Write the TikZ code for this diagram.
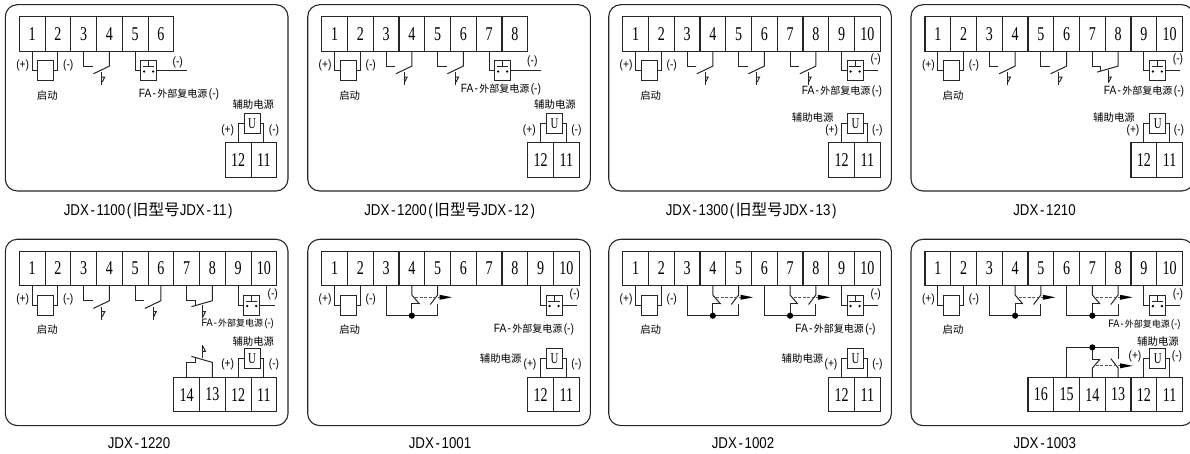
\documentclass[tikz,border=0pt]{standalone}
\usepackage{fontspec}
\usetikzlibrary{calc}
\newfontfamily\cjk{Noto Sans CJK SC}
\newfontfamily\latn[FakeStretch=0.85]{Liberation Sans}
\newfontfamily\numfont[FakeStretch=0.72]{Liberation Serif}

\tikzset{
    frame/.style={draw=black!85, line width=1.1pt, rounded corners=12pt},
    wire/.style={draw=black!85, line width=1pt},
    term/.style={draw=black!85, line width=1.1pt, minimum width=25.75pt, minimum height=34.4pt,
        inner sep=0pt, outer sep=0pt, font=\fontsize{19.5}{20}\selectfont\numfont},
    coil/.style={draw=black!85, line width=1pt, minimum width=16pt, minimum height=20pt, inner sep=0pt, outer sep=0pt},
    ubox/.style={coil, font=\fontsize{15}{16}\selectfont\numfont},
    pol/.style={inner sep=0pt, font=\fontsize{12}{12}\selectfont\latn},
    cnlab/.style={inner sep=0pt, font=\fontsize{10.4}{12}\selectfont\cjk},
    falab/.style={inner sep=0pt},
    caption/.style={inner sep=0pt, font=\fontsize{15.6}{17}\selectfont\latn},
}

% Half width sign
\newcommand{\hw}[1]{\makebox[0.5em]{#1}}
% Frame, terminals, start coil and auxiliary supply box
\newcommand{\basepanel}[1]{
    \draw[frame] (-14,-12) rectangle (268.7,174.3);
    \foreach \n in {1,...,#1} {
        \node[term] (t\n) at (\n*25.75-12.875,17.2) {\n};
    }
    \foreach \n/\pos in {12/9,11/10} {
        \node[term] (t\n) at (\pos*25.75-12.875,143.3) {\n};
    }
    \node[coil] (kc) at (26.5,54) {};
    \draw[wire] (t1.south) |- (kc.west);
    \draw[wire] (t2.south) |- (kc.east);
    \node[pol] (kcplus) at (3.4,48.3) {(+)};
    \node[pol] (kcminus) at (49,48.3) {(-)};
    \node[cnlab] (kclab) at (28,78.5) {启动};
    \node[ubox] (ub) at (232.7,107) {U};
    \draw[wire] (t12.north) |- (ub.west);
    \draw[wire] (t11.north) |- (ub.east);
}
% Normally open contact
\newcommand{\nocontact}[2]{
    \draw[wire] (#1.south) -- ++(0,15) -- ++(9,0);
    \draw[wire] (#2.south) -- ++(0,15) -- ++(-16,7.7);
    \draw[wire] ($(#2.south)+(-7.7,21)$) -- ++(0,13);
    \draw[wire] ($(#2.south)+(-7.7,26)$) -- ++(3,0) -- ++(-2.5,5);
}
% Normally closed contact
\newcommand{\nccontact}[4]{
    \draw[wire] (#1.#3) -- ++(0,#4*15) -- ++(8.4,0) -- ++(0,#4*5);
    \draw[wire] (#2.#3) -- ++(0,#4*15) -- ++(-21,#4*6);
    \draw[wire] ($(#2.#3)+(-10,#4*19)$) -- ++(0,#4*13);
    \draw[wire] ($(#2.#3)+(-10,#4*26)$) -- ++(3,0) -- ++(-2.5,#4*5);
}
% Changeover contact with joint and pointer
\newcommand{\chgcontact}[5]{
    \coordinate (joint) at ($(#2.#4)+(0,#5*30)$);
    \draw[wire] (#1.#4) |- (joint) -- (joint -| #3) -- ++(0,#5*-11.4);
    \draw[wire] (joint) -- ++(0,#5*-12) -- ++(7.7,0);
    \fill[black] (joint) circle (3.1pt);
    \draw[wire] (#2.#4) -- ++(0,#5*9.3) -- ++(7.7,#5*9);
    \draw[wire] (#3.#4) -- ++(0,#5*9.3) -- ++(-7.3,#5*9.5);
    \draw[wire, black!65, dash pattern=on 3pt off 1.5pt] ($(#2.#4)+(3.5,#5*11.6)$) -- ($(#3.#4)+(2,#5*11.6)$);
    \fill[black] ($(#3.#4)+(2,#5*9.1)$) -- ++(12.4,#5*2.5) -- ++(-12.4,#5*2.5) -- cycle;
}
% Reset button box
\newcommand{\fabutton}[2]{
    \node[coil] (fa) at ($(#1.south)+(13.5,19.4)$) {};
    \draw[wire] (#1.south) |- (fa.west);
    \draw[wire] (fa.east) -- ++(#2,0) coordinate (faend);
    \draw[wire] (fa.north) -- ($(fa.center)+(0,-4)$);
    \draw[wire] ($(fa.center)+(-5.8,-4)$) -- ($(fa.center)+(5.8,-4)$);
    \fill[black] ($(fa.center)+(-4.5,1)$) circle (1.3pt);
    \fill[black] ($(fa.center)+(4.5,1)$) circle (1.3pt);
}
\newcommand{\fatext}[2]{{\fontsize{#1}{12}\selectfont\latn FA\hw{-}}{\fontsize{#2}{12}\selectfont\cjk 外部复电源}{\fontsize{#1}{12}\selectfont\latn\makebox[1.1em]{(-)}}}

\begin{document}
\begin{tikzpicture}[x=1pt, y=-1pt]
    \useasboundingbox (0,0) rectangle (1190,454);
    \clip (0,0) rectangle (1190,454);

    % JDX-1100
    \begin{scope}[shift={(19.3,16.7)}]
        \basepanel{6}
        \nocontact{t3}{t4}
        \fabutton{t5}{30.6}
        \node[pol] (faminus) at (158.4,45.6) {(-)};
        \node[falab] (falab) at (160.5,78) {\fatext{12}{10}};
        \node[cnlab] (auxlab) at (234,88.3) {辅助电源};
        \node[pol] (ubplus) at (208.4,113.3) {(+)};
        \node[pol] (ubminus) at (254.7,113.3) {(-)};
    \end{scope}
    % JDX-1200
    \begin{scope}[shift={(321.7,16.7)}]
        \basepanel{8}
        \nocontact{t3}{t4}
        \nocontact{t5}{t6}
        \fabutton{t7}{30}
        \node[pol] (faminus) at (210.6,45) {(-)};
        \node[falab] (falab) at (180,72.3) {\fatext{12}{10}};
        \node[cnlab] (auxlab) at (233.3,88.3) {辅助电源};
        \node[pol] (ubplus) at (207.6,113.3) {(+)};
        \node[pol] (ubminus) at (254.7,113.3) {(-)};
    \end{scope}
    % JDX-1300
    \begin{scope}[shift={(622.7,16.7)}]
        \basepanel{10}
        \nocontact{t3}{t4}
        \nocontact{t5}{t6}
        \nocontact{t7}{t8}
        \fabutton{t9}{15}
        \node[pol] (faminus) at (253,42.3) {(-)};
        \node[falab] (falab) at (220,75) {\fatext{12}{10}};
        \node[cnlab] (auxlab) at (190,100.6) {辅助电源};
        \node[pol] (ubplus) at (209,113.3) {(+)};
        \node[pol] (ubminus) at (254.6,113.3) {(-)};
    \end{scope}
    % JDX-1210
    \begin{scope}[shift={(925,16.7)}]
        \basepanel{10}
        \nocontact{t3}{t4}
        \nocontact{t5}{t6}
        \nccontact{t7}{t8}{south}{1}
        \fabutton{t9}{15}
        \node[pol] (faminus) at (253,42.3) {(-)};
        \node[falab] (falab) at (219.7,75) {\fatext{12}{10}};
        \node[cnlab] (auxlab) at (189,100.6) {辅助电源};
        \node[pol] (ubplus) at (208,113.3) {(+)};
        \node[pol] (ubminus) at (254,113.3) {(-)};
    \end{scope}
    % JDX-1220
    \begin{scope}[shift={(19.3,251.3)}]
        \basepanel{10}
        \nocontact{t3}{t4}
        \nocontact{t5}{t6}
        \nccontact{t7}{t8}{south}{1}
        \fabutton{t9}{15}
        \foreach \n/\pos in {14/7,13/8} {
            \node[term] (t\n) at (\pos*25.75-12.875,143.3) {\n};
        }
        \nccontact{t14}{t13}{north}{-1}
        \node[pol] (faminus) at (253.4,42.7) {(-)};
        \node[falab] (falab) at (219,72.7) {\fatext{10.8}{9}};
        \node[cnlab] (auxlab) at (234,90.4) {辅助电源};
        \node[pol] (ubplus) at (208.4,112.7) {(+)};
        \node[pol] (ubminus) at (254.7,112.7) {(-)};
    \end{scope}
    % JDX-1001
    \begin{scope}[shift={(321.7,251.3)}]
        \basepanel{10}
        \chgcontact{t3}{t4}{t5}{south}{1}
        \fabutton{t9}{15}
        \node[pol] (faminus) at (253,42.7) {(-)};
        \node[falab] (falab) at (213,77.7) {\fatext{12}{10}};
        \node[cnlab] (auxlab) at (179,107.7) {辅助电源};
        \node[pol] (ubplus) at (208.3,112.7) {(+)};
        \node[pol] (ubminus) at (254.7,112.7) {(-)};
    \end{scope}
    % JDX-1002
    \begin{scope}[shift={(622.7,251.3)}]
        \basepanel{10}
        \chgcontact{t3}{t4}{t5}{south}{1}
        \chgcontact{t6}{t7}{t8}{south}{1}
        \fabutton{t9}{15}
        \node[pol] (faminus) at (253,42.7) {(-)};
        \node[falab] (falab) at (213.5,77.7) {\fatext{12}{10}};
        \node[cnlab] (auxlab) at (179.8,107.7) {辅助电源};
        \node[pol] (ubplus) at (208.3,112.7) {(+)};
        \node[pol] (ubminus) at (254.7,112.7) {(-)};
    \end{scope}
    % JDX-1003
    \begin{scope}[shift={(925,251.3)}]
        \basepanel{10}
        \chgcontact{t3}{t4}{t5}{south}{1}
        \chgcontact{t6}{t7}{t8}{south}{1}
        \fabutton{t9}{15}
        \foreach \n/\pos in {16/5,15/6,14/7,13/8} {
            \node[term] (t\n) at (\pos*25.75-12.875,143.3) {\n};
        }
        \chgcontact{t15}{t14}{t13}{north}{-1}
        \node[pol] (faminus) at (253,42.7) {(-)};
        \node[falab] (falab) at (220,73.4) {\fatext{10.8}{9}};
        \node[cnlab] (auxlab) at (233,90) {辅助电源};
        \node[pol] (ubplus) at (210,105.4) {(+)};
        \node[pol] (ubminus) at (252,105.4) {(-)};
    \end{scope}

    % Captions
    \node[caption] (cap1) at (149,210.5) {JDX\hw{-}1100\hw{(}{\cjk 旧型号}JDX\hw{-}11\hw{)}};
    \node[caption] (cap2) at (450.5,210.5) {JDX\hw{-}1200\hw{(}{\cjk 旧型号}JDX\hw{-}12\hw{)}};
    \node[caption] (cap3) at (752,210.5) {JDX\hw{-}1300\hw{(}{\cjk 旧型号}JDX\hw{-}13\hw{)}};
    \node[caption] (cap4) at (1044.5,210) {JDX\hw{-}1210};
    \node[caption] (cap5) at (139,443) {JDX\hw{-}1220};
    \node[caption] (cap6) at (440,443) {JDX\hw{-}1001};
    \node[caption] (cap7) at (743,443) {JDX\hw{-}1002};
    \node[caption] (cap8) at (1044.7,443) {JDX\hw{-}1003};
\end{tikzpicture}
\end{document}
